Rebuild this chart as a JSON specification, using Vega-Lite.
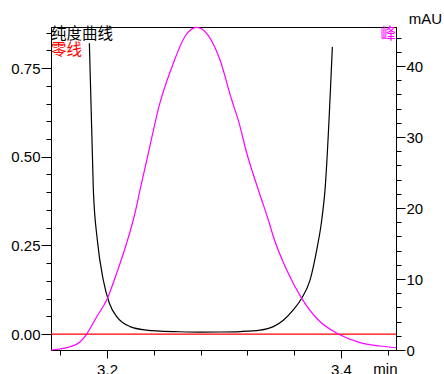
{
  "$schema": "https://vega.github.io/schema/vega-lite/v6.json",
  "width": 345,
  "height": 323,
  "autosize": {"type": "none"},
  "padding": {"left": 51, "top": 27, "right": 48, "bottom": 24},
  "config": {
    "view": {"stroke": "#000000", "strokeWidth": 1},
    "axis": {
      "grid": false,
      "domainColor": "#000000",
      "tickColor": "#000000",
      "labelColor": "#000000",
      "labelFont": "Liberation Sans",
      "labelFontSize": 15,
      "titleFont": "Liberation Sans",
      "titleFontSize": 15,
      "titleFontWeight": "normal",
      "titleColor": "#000000",
      "labelOverlap": false,
      "labelFlush": false,
      "domainWidth": 1,
      "tickWidth": 1
    }
  },
  "datasets": {
    "purity": [
      {"t": 3.1849, "value": 0.820},
      {"t": 3.1883, "value": 0.406},
      {"t": 3.1917, "value": 0.265},
      {"t": 3.1968, "value": 0.152},
      {"t": 3.2020, "value": 0.087},
      {"t": 3.2083, "value": 0.049},
      {"t": 3.2197, "value": 0.021},
      {"t": 3.2339, "value": 0.011},
      {"t": 3.2453, "value": 0.0085},
      {"t": 3.2624, "value": 0.0065},
      {"t": 3.2800, "value": 0.0055},
      {"t": 3.2966, "value": 0.0058},
      {"t": 3.3137, "value": 0.007},
      {"t": 3.3308, "value": 0.011},
      {"t": 3.3422, "value": 0.021},
      {"t": 3.3507, "value": 0.039},
      {"t": 3.3592, "value": 0.068},
      {"t": 3.3664, "value": 0.101},
      {"t": 3.3735, "value": 0.152},
      {"t": 3.3792, "value": 0.237},
      {"t": 3.3835, "value": 0.321},
      {"t": 3.3863, "value": 0.406},
      {"t": 3.3926, "value": 0.810}
    ],
    "peak": [
      {"t": 3.1521, "value": 0.0},
      {"t": 3.1598, "value": 0.14},
      {"t": 3.1684, "value": 0.46},
      {"t": 3.1769, "value": 1.13},
      {"t": 3.1826, "value": 2.25},
      {"t": 3.1912, "value": 4.69},
      {"t": 3.1997, "value": 7.04},
      {"t": 3.2083, "value": 10.85},
      {"t": 3.2168, "value": 15.07},
      {"t": 3.2239, "value": 19.30},
      {"t": 3.2282, "value": 22.54},
      {"t": 3.2350, "value": 27.5},
      {"t": 3.2447, "value": 34.5},
      {"t": 3.2567, "value": 40.42},
      {"t": 3.2667, "value": 44.2},
      {"t": 3.2767, "value": 45.45},
      {"t": 3.2863, "value": 44.37},
      {"t": 3.2966, "value": 40.85},
      {"t": 3.3066, "value": 35.21},
      {"t": 3.3122, "value": 32.39},
      {"t": 3.3194, "value": 27.75},
      {"t": 3.3308, "value": 21.83},
      {"t": 3.3379, "value": 18.31},
      {"t": 3.3422, "value": 15.96},
      {"t": 3.3536, "value": 11.27},
      {"t": 3.3664, "value": 7.28},
      {"t": 3.3806, "value": 4.23},
      {"t": 3.3977, "value": 2.25},
      {"t": 3.4162, "value": 1.03},
      {"t": 3.4333, "value": 0.56},
      {"t": 3.447, "value": 0.32}
    ]
  },
  "layer": [
    {
      "data": {"name": "purity"},
      "mark": {"type": "line", "color": "#000000", "strokeWidth": 1.2, "interpolate": "monotone"},
      "encoding": {
        "x": {
          "field": "t",
          "type": "quantitative",
          "scale": {"domain": [3.1521, 3.447], "nice": false, "zero": false},
          "axis": {
            "orient": "bottom",
            "values": [3.16, 3.18, 3.2, 3.22, 3.24, 3.26, 3.28, 3.3, 3.32, 3.34, 3.36, 3.38, 3.4, 3.42, 3.44],
            "labelExpr": "abs(datum.value*10 - round(datum.value*10)) < 0.000001 ? format(datum.value, '.1f') : ''",
            "tickSize": {"condition": {"test": "abs(datum.value*10 - round(datum.value*10)) < 0.000001", "value": 8}, "value": 5},
            "labelOverlap": false,
            "labelBound": false,
            "labelPadding": 4,
            "title": "min",
            "titleX": 346,
            "titleY": 23,
            "titleAlign": "right",
            "titleBaseline": "alphabetic"
          }
        },
        "y": {
          "field": "value",
          "type": "quantitative",
          "scale": {"domain": [-0.045, 0.866], "nice": false, "zero": false},
          "axis": {
            "orient": "left",
            "values": [0, 0.05, 0.1, 0.15, 0.2, 0.25, 0.3, 0.35, 0.4, 0.45, 0.5, 0.55, 0.6, 0.65, 0.7, 0.75, 0.8, 0.85],
            "labelExpr": "abs(datum.value*4 - round(datum.value*4)) < 0.000001 ? format(datum.value, '.2f') : ''",
            "tickSize": {"condition": {"test": "abs(datum.value*4 - round(datum.value*4)) < 0.000001", "value": 10}, "value": 5},
            "labelOverlap": false,
            "labelPadding": 1,
            "title": null
          }
        }
      }
    },
    {
      "data": {"values": [{"label": "零线", "value": 0}]},
      "mark": {"type": "rule", "color": "#ff0000", "strokeWidth": 1.2},
      "encoding": {
        "y": {
          "field": "value",
          "type": "quantitative",
          "scale": {"domain": [-0.045, 0.866], "nice": false, "zero": false},
          "axis": null
        }
      }
    },
    {
      "data": {"values": [{"label": "纯度曲线"}]},
      "mark": {"type": "text", "align": "left", "baseline": "top", "font": "Noto Sans CJK SC", "fontSize": 15.5, "color": "#000000"},
      "encoding": {
        "x": {"datum": 3.1521, "type": "quantitative"},
        "y": {"datum": 0.866, "type": "quantitative", "scale": {"domain": [-0.045, 0.866], "nice": false, "zero": false}, "axis": null},
        "text": {"field": "label"}
      }
    },
    {
      "data": {"values": [{"label": "零线"}]},
      "mark": {"type": "text", "align": "left", "baseline": "top", "font": "Noto Sans CJK SC", "fontSize": 15.5, "color": "#ff0000", "dy": 16},
      "encoding": {
        "x": {"datum": 3.1521, "type": "quantitative"},
        "y": {"datum": 0.866, "type": "quantitative", "scale": {"domain": [-0.045, 0.866], "nice": false, "zero": false}, "axis": null},
        "text": {"field": "label"}
      }
    },
    {
      "data": {"name": "peak"},
      "mark": {"type": "line", "color": "#ff00ff", "strokeWidth": 1.2, "interpolate": "monotone"},
      "encoding": {
        "x": {"field": "t", "type": "quantitative"},
        "y": {
          "field": "value",
          "type": "quantitative",
          "scale": {"domain": [0, 45.5], "nice": false, "zero": false},
          "axis": {
            "orient": "right",
            "values": [0, 2, 4, 6, 8, 10, 12, 14, 16, 18, 20, 22, 24, 26, 28, 30, 32, 34, 36, 38, 40, 42, 44],
            "labelExpr": "datum.value % 10 === 0 ? datum.label : ''",
            "tickSize": {"condition": {"test": "datum.value % 10 === 0", "value": 9}, "value": 5},
            "labelOverlap": false,
            "labelPadding": 1,
            "title": "mAU",
            "titleAngle": 0,
            "titleX": 29,
            "titleY": -9,
            "titleAlign": "center",
            "titleBaseline": "middle"
          }
        }
      }
    },
    {
      "data": {"values": [{"label": "峰"}]},
      "mark": {"type": "text", "align": "right", "baseline": "top", "font": "Noto Sans CJK SC", "fontSize": 15.5, "color": "#ff00ff"},
      "encoding": {
        "x": {"datum": 3.447, "type": "quantitative"},
        "y": {"datum": 45.5, "type": "quantitative", "scale": {"domain": [0, 45.5], "nice": false, "zero": false}, "axis": null},
        "text": {"field": "label"}
      }
    }
  ],
  "resolve": {"scale": {"y": "independent"}}
}
